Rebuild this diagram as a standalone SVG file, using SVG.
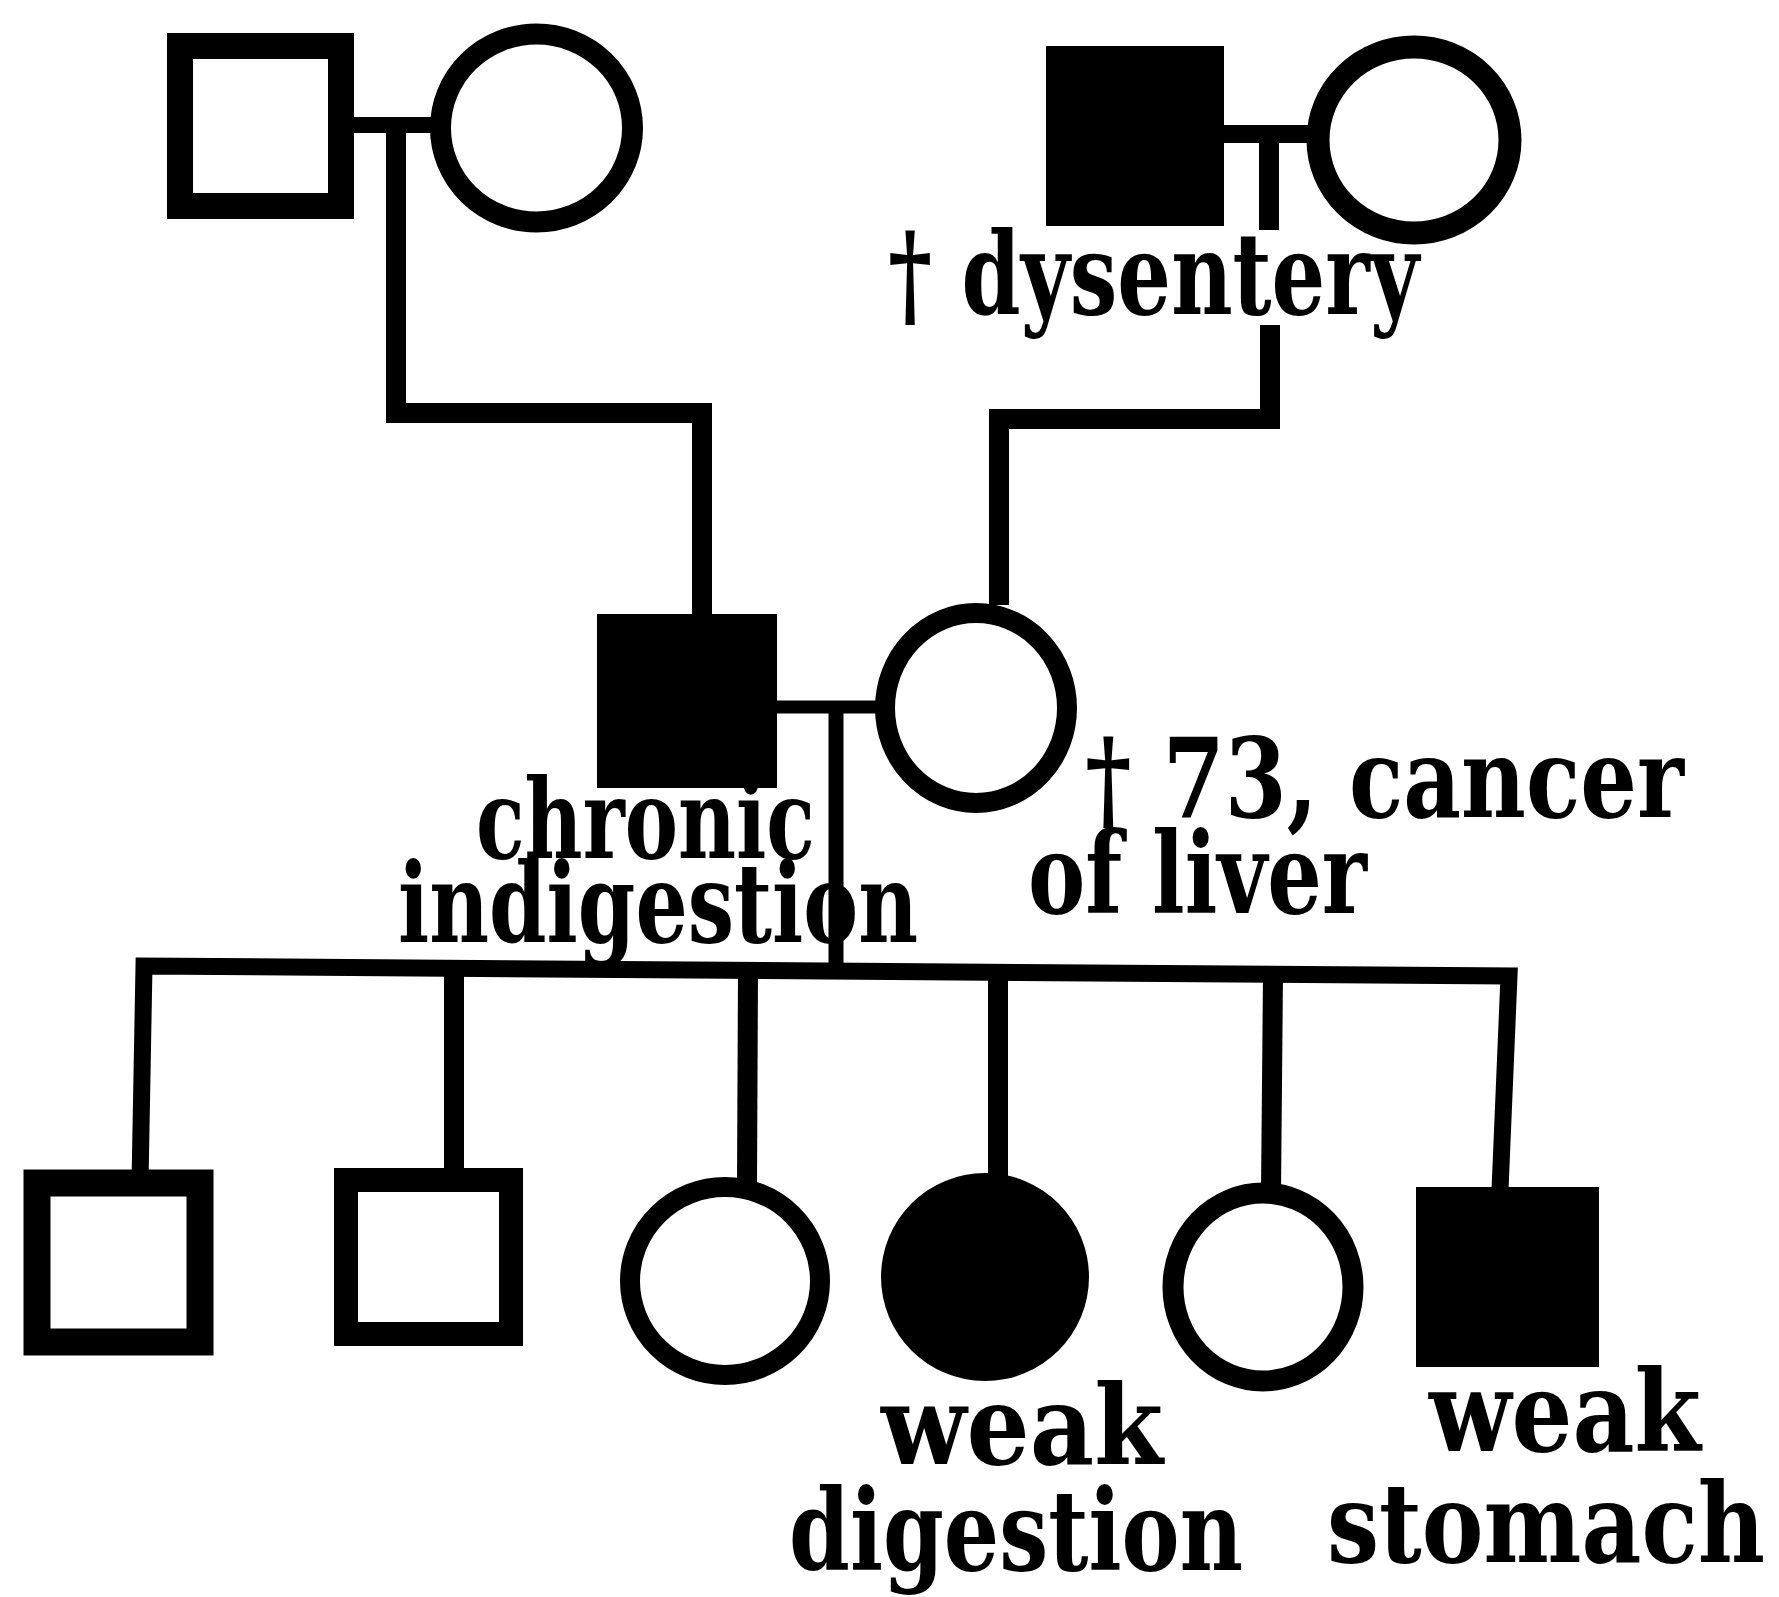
<svg xmlns="http://www.w3.org/2000/svg" width="1779" height="1597" viewBox="0 0 1779 1597">
<style>
.open{fill:#fff;stroke:#000}
.aff{fill:#000;stroke:none}
.ln{fill:none;stroke:#000;stroke-linejoin:miter;stroke-linecap:butt}
text{font-family:"DejaVu Serif","Liberation Serif",serif;font-weight:bold;fill:#000}
</style>
<rect x="0" y="0" width="1779" height="1597" fill="#fff"/>
<g id="connectors">
  <line class="ln" x1="341" y1="125" x2="440" y2="125" stroke-width="16"/>
  <path class="ln" d="M396 125 V413 H702 V614" stroke-width="20"/>
  <line class="ln" x1="1224" y1="134" x2="1318" y2="134" stroke-width="18"/>
  <line class="ln" x1="1269" y1="134" x2="1269" y2="230" stroke-width="20"/>
  <path class="ln" d="M1270 325 V419 H999 V605" stroke-width="20"/>
  <line class="ln" x1="777" y1="707" x2="886" y2="707" stroke-width="13"/>
  <line class="ln" x1="836" y1="707" x2="836" y2="970" stroke-width="15"/>
  <path class="ln" d="M140 1183 L144 966 L1509 976 L1500 1190" stroke-width="17"/>
  <line class="ln" x1="454" y1="968" x2="454" y2="1180" stroke-width="20"/>
  <line class="ln" x1="748" y1="970" x2="747" y2="1187" stroke-width="20"/>
  <line class="ln" x1="998" y1="972" x2="998" y2="1180" stroke-width="20"/>
  <line class="ln" x1="1273" y1="974" x2="1271" y2="1193" stroke-width="20"/>
</g>
<g id="grandfather-paternal">
  <rect class="open" x="180" y="46" width="161" height="160" stroke-width="26"/>
</g>
<g id="grandmother-paternal">
  <ellipse class="open" cx="536.5" cy="128" rx="96" ry="94" stroke-width="21"/>
</g>
<g id="grandfather-maternal">
  <rect class="aff" x="1046" y="46" width="178" height="180"/>
  <text x="888" y="314" font-size="114" textLength="531" lengthAdjust="spacingAndGlyphs">† dysentery</text>
</g>
<g id="grandmother-maternal">
  <ellipse class="open" cx="1414" cy="140" rx="96" ry="93" stroke-width="23"/>
</g>
<g id="father">
  <rect class="aff" x="597" y="614" width="180" height="174"/>
  <text x="476" y="858" font-size="110" textLength="339" lengthAdjust="spacingAndGlyphs">chronic</text>
  <text x="398" y="942" font-size="110" textLength="520" lengthAdjust="spacingAndGlyphs">indigestion</text>
</g>
<g id="mother">
  <ellipse class="open" cx="976" cy="708" rx="91" ry="95" stroke-width="20"/>
  <text x="1684" y="817" font-size="110" text-anchor="end" textLength="599" lengthAdjust="spacingAndGlyphs">† 73, cancer</text>
  <text x="1028" y="913" font-size="112" textLength="339" lengthAdjust="spacingAndGlyphs">of liver</text>
</g>
<g id="child1">
  <rect class="open" x="37" y="1183" width="163" height="159" stroke-width="27"/>
</g>
<g id="child2">
  <rect class="open" x="346" y="1180" width="165" height="154" stroke-width="24"/>
</g>
<g id="child3">
  <ellipse class="open" cx="725" cy="1281" rx="95" ry="94" stroke-width="20"/>
</g>
<g id="child4">
  <ellipse class="aff" cx="985" cy="1277" rx="104" ry="104"/>
  <text x="881" y="1464" font-size="110" textLength="282" lengthAdjust="spacingAndGlyphs">weak</text>
  <text x="789" y="1570" font-size="112" textLength="454" lengthAdjust="spacingAndGlyphs">digestion</text>
</g>
<g id="child5">
  <ellipse class="open" cx="1263" cy="1287" rx="90" ry="94" stroke-width="21"/>
</g>
<g id="child6">
  <rect class="aff" x="1416" y="1187" width="183" height="180"/>
  <text x="1429" y="1451" font-size="112" textLength="272" lengthAdjust="spacingAndGlyphs">weak</text>
  <text x="1765" y="1562" font-size="110" text-anchor="end" textLength="438" lengthAdjust="spacingAndGlyphs">stomach</text>
</g>
</svg>
